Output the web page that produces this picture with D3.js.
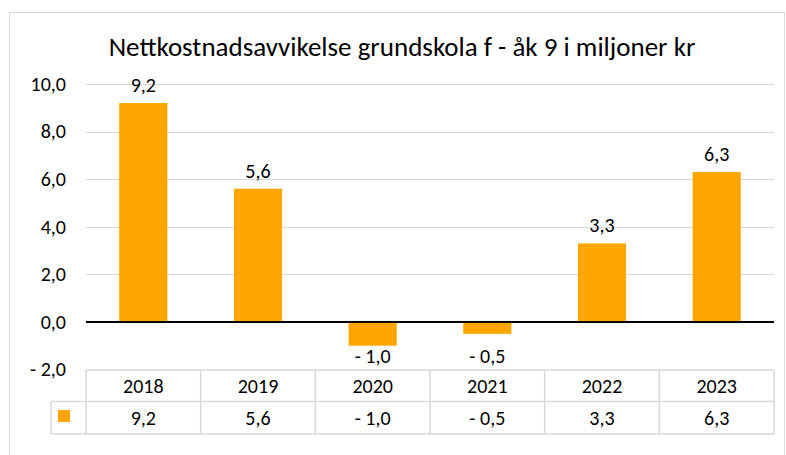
<!DOCTYPE html>
<html>
<head>
<meta charset="utf-8">
<script src="https://cdn.jsdelivr.net/npm/d3@7"></script>
<style>
  body { margin: 0; background: #fff; }
  text { font-family: Calibri, Carlito, "Open Sans", "Liberation Sans", sans-serif; fill: #000; }
</style>
</head>
<body>
<div id="chart"></div>
<script>
// Chart data
var years = ["2018", "2019", "2020", "2021", "2022", "2023"];
var values = [9.2, 5.6, -1.0, -0.5, 3.3, 6.3];
var yTicks = [-2, 0, 2, 4, 6, 8, 10];
var chartTitle = "Nettkostnadsavvikelse grundskola f - åk 9 i miljoner kr";

var svgWidth = 786;
var svgHeight = 455;
var barColor = "#FFA600";
var labelSize = "20px";

var plot = { left: 86, right: 774, top: 84, bottom: 369.5 };

// Norwegian style number format: "9,2", negatives "- 1,0"
function fmt(v) {
  var s = Math.abs(v).toFixed(1).replace(".", ",");
  return v < 0 ? "- " + s : s;
}

var svg = d3.select("#chart")
  .append("svg")
  .attr("width", svgWidth)
  .attr("height", svgHeight);

// Outer chart border
svg.append("rect")
  .attr("x", 9.5)
  .attr("y", 12.5)
  .attr("width", 775)
  .attr("height", 460)
  .attr("fill", "none")
  .attr("stroke", "#d9d9d9");

// Title
svg.append("text")
  .attr("x", 402)
  .attr("y", 56)
  .attr("text-anchor", "middle")
  .style("font-size", "27px")
  .text(chartTitle);

// Scales
var xScale = d3.scaleBand()
  .domain(years)
  .range([plot.left, plot.right])
  .paddingInner(0.58)
  .paddingOuter(0.29);

var xCol = d3.scaleBand()
  .domain(years)
  .range([plot.left, plot.right]);

var yScale = d3.scaleLinear()
  .domain([-2, 10])
  .range([plot.bottom, plot.top]);

// Gridlines
svg.append("g")
  .selectAll("line")
  .data(yTicks.filter(d => d > 0))
  .enter()
  .append("line")
  .attr("x1", plot.left)
  .attr("x2", plot.right)
  .attr("y1", d => Math.round(yScale(d)) + 0.5)
  .attr("y2", d => Math.round(yScale(d)) + 0.5)
  .attr("stroke", "#d9d9d9")
  .attr("stroke-width", 1);

// Y axis labels
var leftAxis = d3.axisLeft(yScale)
  .tickValues(yTicks)
  .tickSize(0)
  .tickPadding(20)
  .tickFormat(fmt);

svg.append("g")
  .attr("transform", `translate(${plot.left}, 0)`)
  .call(leftAxis)
  .call(g => g.select(".domain").remove())
  .call(g => g.selectAll("text")
    .style("font-size", labelSize)
    .style("font-family", null)
    .attr("fill", "#000"));

// Bars
svg.append("g")
  .selectAll("rect")
  .data(values)
  .enter()
  .append("rect")
  .attr("x", (d, i) => xScale(years[i]))
  .attr("y", d => yScale(Math.max(0, d)))
  .attr("width", xScale.bandwidth())
  .attr("height", d => Math.abs(yScale(d) - yScale(0)))
  .attr("fill", barColor);

// Zero line
svg.append("line")
  .attr("x1", plot.left)
  .attr("x2", plot.right)
  .attr("y1", yScale(0))
  .attr("y2", yScale(0))
  .attr("stroke", "#000")
  .attr("stroke-width", 2);

// Data labels
svg.append("g")
  .selectAll("text")
  .data(values)
  .enter()
  .append("text")
  .attr("x", (d, i) => xScale(years[i]) + xScale.bandwidth() / 2)
  .attr("y", d => d >= 0 ? yScale(d) - 18 : yScale(-1.45))
  .attr("dy", "0.35em")
  .attr("text-anchor", "middle")
  .style("font-size", labelSize)
  .text(fmt);

// Data table below the chart
var rowTop = 370, rowMid = 401.5, rowBot = 434;
var legendLeft = 51;
var tableStroke = "#d9d9d9";
var table = svg.append("g")
  .attr("stroke", tableStroke)
  .attr("stroke-width", 1.5)
  .attr("fill", "none");

table.append("line")
  .attr("x1", plot.left).attr("x2", plot.right)
  .attr("y1", rowTop).attr("y2", rowTop);
table.append("line")
  .attr("x1", legendLeft).attr("x2", plot.right)
  .attr("y1", rowMid).attr("y2", rowMid);
table.append("line")
  .attr("x1", legendLeft).attr("x2", plot.right)
  .attr("y1", rowBot).attr("y2", rowBot);
table.append("line")
  .attr("x1", legendLeft).attr("x2", legendLeft)
  .attr("y1", rowMid).attr("y2", rowBot);

table.selectAll(".col")
  .data(years.concat(["end"]))
  .enter()
  .append("line")
  .attr("class", "col")
  .attr("x1", (d, i) => i < years.length ? xCol(d) : plot.right)
  .attr("x2", (d, i) => i < years.length ? xCol(d) : plot.right)
  .attr("y1", rowTop)
  .attr("y2", rowBot);

// Year row
svg.append("g")
  .selectAll("text")
  .data(years)
  .enter()
  .append("text")
  .attr("x", d => xCol(d) + xCol.bandwidth() / 2)
  .attr("y", (rowTop + rowMid) / 2)
  .attr("dy", "0.35em")
  .attr("text-anchor", "middle")
  .style("font-size", labelSize)
  .text(d => d);

// Value row
svg.append("g")
  .selectAll("text")
  .data(values)
  .enter()
  .append("text")
  .attr("x", (d, i) => xCol(years[i]) + xCol.bandwidth() / 2)
  .attr("y", (rowMid + rowBot) / 2)
  .attr("dy", "0.35em")
  .attr("text-anchor", "middle")
  .style("font-size", labelSize)
  .text(fmt);

// Legend key
svg.append("rect")
  .attr("x", 58)
  .attr("y", 410)
  .attr("width", 12)
  .attr("height", 12)
  .attr("fill", barColor);
</script>
</body>
</html>
